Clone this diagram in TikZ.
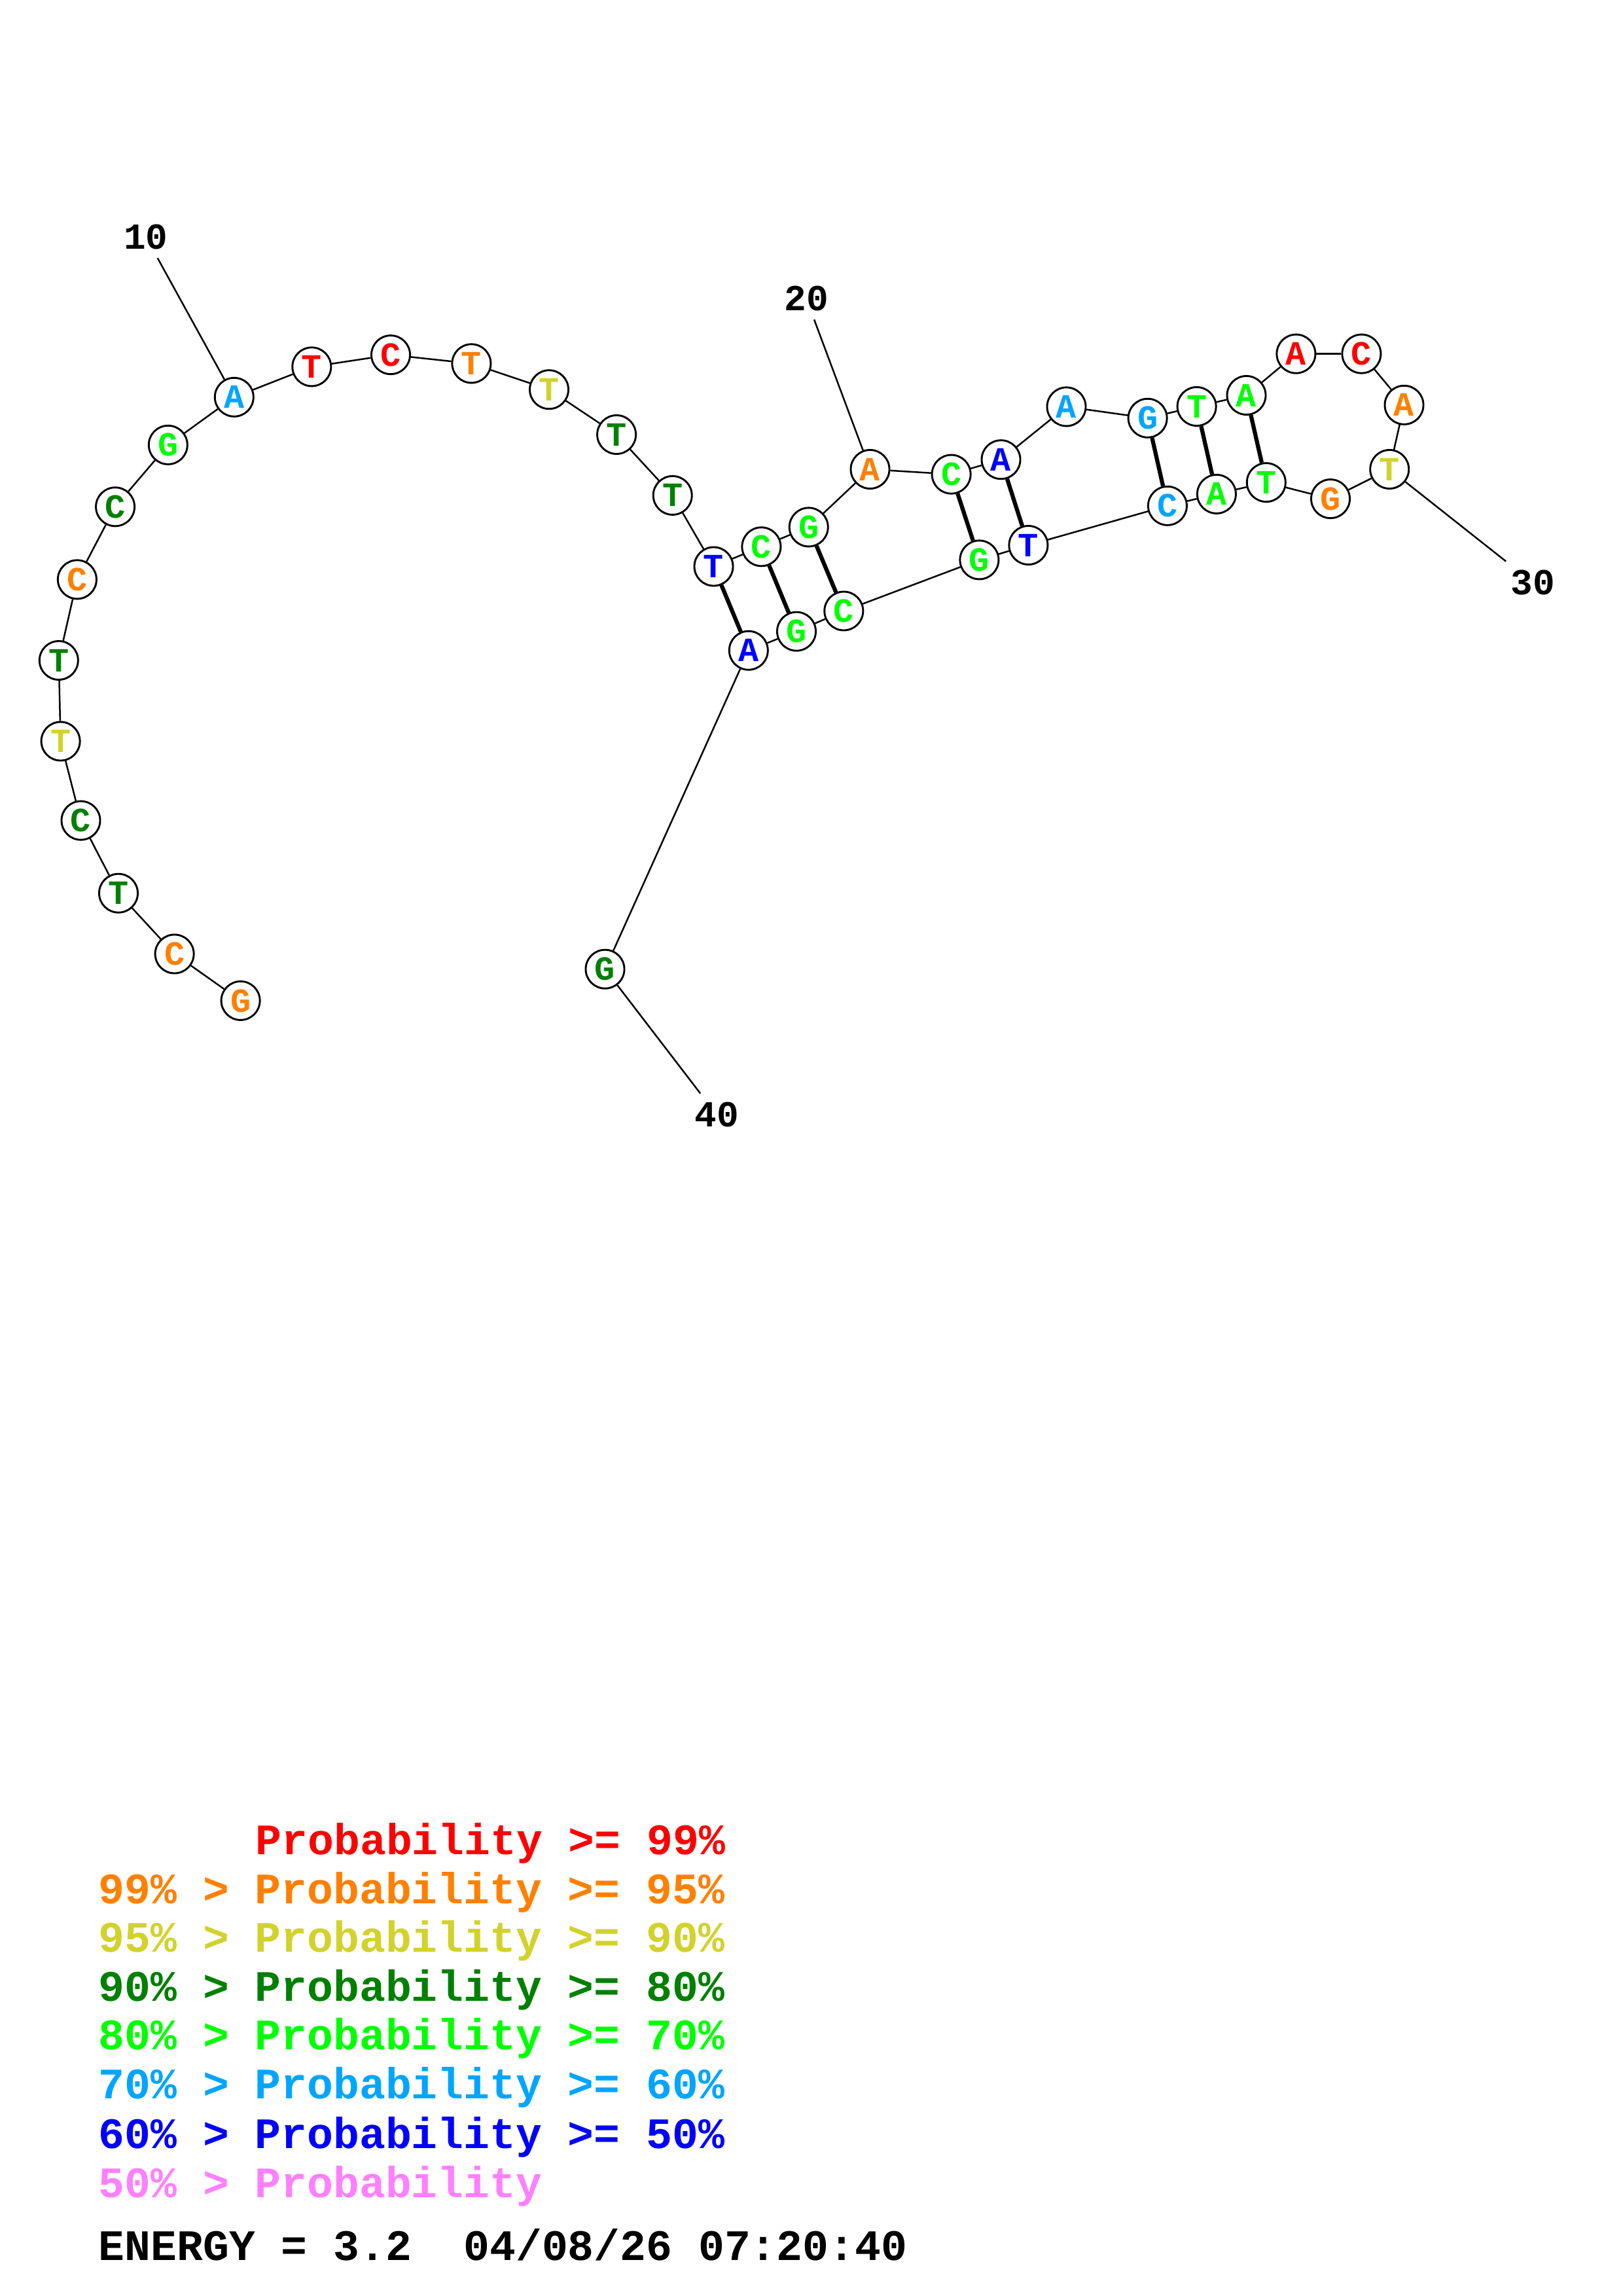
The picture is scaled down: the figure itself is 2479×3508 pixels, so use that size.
\documentclass[tikz,border=0pt]{standalone}
\usepackage{fontspec}
\setmonofont{Liberation Mono}
\usepackage{tikz}
\usetikzlibrary{positioning}
\definecolor{pRed}{RGB}{255,0,0}
\definecolor{pOrange}{RGB}{255,128,0}
\definecolor{pYellow}{RGB}{210,210,45}
\definecolor{pDkGreen}{RGB}{0,128,0}
\definecolor{pGreen}{RGB}{0,255,0}
\definecolor{pLtBlue}{RGB}{0,165,255}
\definecolor{pBlue}{RGB}{0,0,255}
\definecolor{pPink}{RGB}{255,128,255}
\tikzset{
  nuc/.style={circle, draw=black, fill=white, line width=0.7pt,
    minimum size=5mm, inner sep=0pt,
    font=\fontsize{12.5}{12.5}\selectfont\ttfamily\bfseries},
  numlbl/.style={inner sep=3pt,
    font=\fontsize{13.5}{13.5}\selectfont\ttfamily\bfseries},
  legend/.style={anchor=base west, inner sep=0pt,
    font=\fontsize{16}{16}\selectfont\ttfamily\bfseries},
  bb/.style={line width=0.6pt, color=black},
  pairline/.style={line width=1.5pt, color=black}
}

\begin{document}
\begin{tikzpicture}[x=0.008471cm, y=-0.008471cm]
\useasboundingbox (0,0) rectangle (2479,3508);

%--- NUCLEOTIDES ---
\foreach \i/\x/\y/\b/\c in {
  1/367.6/1528.9/G/pOrange, 2/266.6/1457.5/C/pOrange,
  3/181.0/1364.7/T/pDkGreen, 4/123.5/1253.6/C/pDkGreen,
  5/92.6/1132.5/T/pYellow, 6/89.8/1009.0/T/pDkGreen,
  7/117.9/885.4/C/pOrange, 8/176.1/774.3/C/pDkGreen,
  9/256.8/679.8/G/pGreen, 10/357.8/606.8/A/pLtBlue,
  11/476.3/560.4/T/pRed, 12/597.0/542.1/C/pRed,
  13/720.4/555.4/T/pOrange, 14/839.0/595.2/T/pYellow,
  15/942.1/664.0/T/pDkGreen, 16/1027.7/756.9/T/pDkGreen,
  17/1090.5/865.5/T/pBlue, 18/1163.4/835.3/C/pGreen,
  19/1235.7/805.4/G/pGreen, 20/1329.5/717.0/A/pOrange,
  21/1453.6/724.6/C/pGreen, 22/1529.5/702.2/A/pBlue,
  23/1629.5/621.4/A/pLtBlue, 24/1753.6/638.8/G/pLtBlue,
  25/1828.6/621.0/T/pGreen, 26/1904.5/604.0/A/pGreen,
  27/1980.4/540.6/A/pRed, 28/2080.4/540.6/C/pRed,
  29/2145.5/618.8/A/pOrange, 30/2123.2/717.0/T/pYellow,
  31/2033.0/762.1/G/pOrange, 32/1934.8/737.1/T/pGreen,
  33/1858.9/754.9/A/pGreen, 34/1783.9/772.8/C/pLtBlue,
  35/1571.4/833.0/T/pBlue, 36/1496.4/855.4/G/pGreen,
  37/1289.3/933.5/C/pGreen, 38/1217.0/964.7/G/pGreen,
  39/1143.8/993.8/A/pBlue, 40/924.5/1480.7/G/pDkGreen} {
  \node[nuc, text=\c] (n\i) at (\x,\y) {\b};
}

% backbone
\foreach \i in {1,...,39} {
  \pgfmathtruncatemacro\j{\i+1}
  \draw[bb] (n\i) -- (n\j);
}
% base pairs
\foreach \i/\j in {17/39,18/38,19/37,21/36,22/35,24/34,25/33,26/32} {
  \draw[pairline] (n\i) -- (n\j);
}

%--- POSITION LABELS ---
\node[numlbl] (l10) at (223,362) {10};
\node[numlbl] (l20) at (1232,456) {20};
\node[numlbl] (l30) at (2342,890) {30};
\node[numlbl] (l40) at (1095,1703) {40};
\foreach \n in {10,20,30,40} { \draw[bb] (l\n) -- (n\n); }

%--- LEGEND ---
\node[legend, text=pRed] (lg1) at (390,2833) {Probability >= 99\%};
\node[legend, text=pOrange] (lg2) at (150,2908) {99\% > Probability >= 95\%};
\node[legend, text=pYellow] (lg3) at (150,2982) {95\% > Probability >= 90\%};
\node[legend, text=pDkGreen] (lg4) at (150,3057) {90\% > Probability >= 80\%};
\node[legend, text=pGreen] (lg5) at (150,3131) {80\% > Probability >= 70\%};
\node[legend, text=pLtBlue] (lg6) at (150,3206) {70\% > Probability >= 60\%};
\node[legend, text=pBlue] (lg7) at (150,3282) {60\% > Probability >= 50\%};
\node[legend, text=pPink] (lg8) at (150,3357) {50\% > Probability};
\node[legend] (energy) at (150,3453) {ENERGY = 3.2\ \ 04/08/26 07:20:40};
\end{tikzpicture}
\end{document}
